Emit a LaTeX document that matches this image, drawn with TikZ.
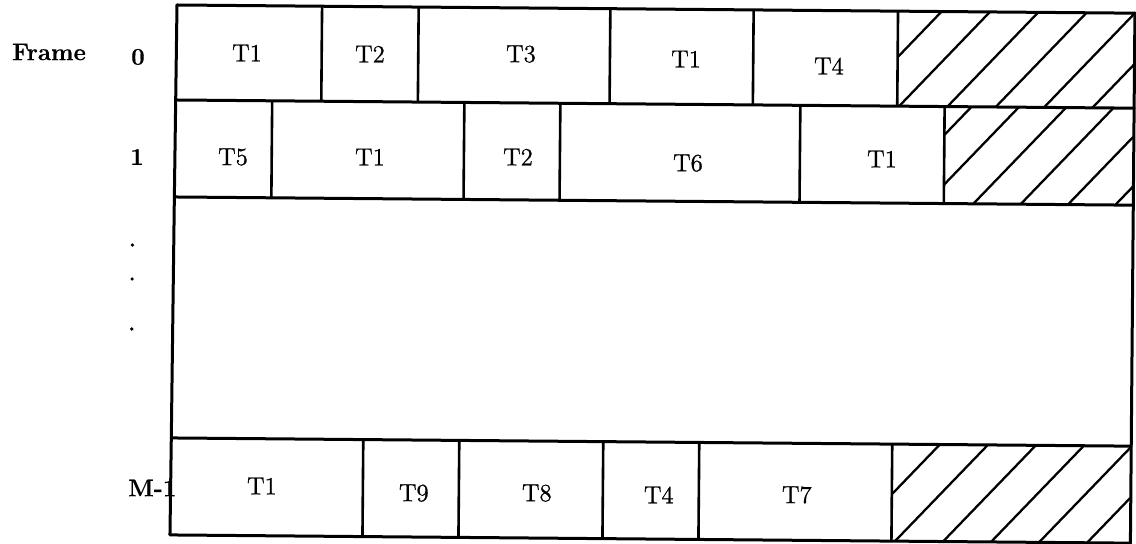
\documentclass[tikz,border=0pt]{standalone}
\usepackage{fontspec}
\newfontface\taskface{Latin Modern Roman}[FakeBold=0.9]
\newfontface\labface{Latin Modern Roman 10 Bold}[FakeBold=0.5]
\begin{document}
\tikzset{
  border/.style={line width=1.5pt, line cap=round, line join=round},
  divider/.style={line width=1.3pt},
  hatchline/.style={line width=1.15pt},
  task/.style={font=\fontsize{12.4}{14}\taskface, inner sep=0pt},
  lab/.style={font=\fontsize{12}{14}\labface, inner sep=0pt},
  dotmark/.style={fill=black},
}
\begin{tikzpicture}[x=0.5pt,y=-0.5pt]
\useasboundingbox (0,0) rectangle (1136,544);
\begin{scope}[rotate around={-0.49:(177,5)}]
  % left labels
  \node[lab] (lframe) at (49.4,53.1) {Frame};
  \node[lab] (l0) at (138.4,57.3) {0};
  \node[lab] (l1) at (138.3,157.3) {1};
  \node[lab, anchor=west] (lm) at (132,488.4) {M-1};
  \fill[dotmark] (134.5,245.4) circle (1.8);
  \fill[dotmark] (134.5,279.4) circle (1.8);
  \fill[dotmark] (134.5,329.4) circle (1.8);

  % hatched regions
  \begin{scope}
    \clip (898,5) rectangle (1135,100);
    \foreach \k in {-2,...,5} \draw[hatchline] ({900+48.3*\k},100) -- ({990+48.3*\k},5);
  \end{scope}
  \begin{scope}
    \clip (945.5,100) rectangle (1135,197);
    \foreach \k in {-3,...,4} \draw[hatchline] ({975+47.3*\k},197) -- ({1067+47.3*\k},100);
  \end{scope}
  \begin{scope}
    \clip (896,438) rectangle (1135,535);
    \foreach \k in {-2,...,5} \draw[hatchline] ({899.6+48*\k},535) -- ({991.6+48*\k},438);
  \end{scope}

  % outer frame and row lines
  \draw[border] (177,5) -- (176,197) -- (175,438) -- (174.5,535);
  \draw[border] (1135,5) -- (1135,535);
  \draw[border] (177,5) -- (1135,5);
  \draw[border] (177,100) -- (1135,100);
  \draw[border] (176,197) -- (1135,197);
  \draw[border] (175,438) -- (1135,438);
  \draw[border] (174.5,535) -- (1135,535);

  % row 0 dividers
  \foreach \u in {322.1,418.7,610.4,753.7,898.1} \draw[divider] (\u,5) -- (\u,100);
  % row 1 dividers
  \foreach \u in {273,465.2,561.2,801.2,945.5} \draw[divider] (\u,100) -- (\u,197);
  % row M-1 dividers
  \foreach \u in {367,463,607,703,896} \draw[divider] (\u,438) -- (\u,535);

  % row 0 tasks
  \node[task] (a1) at (247.4,52.4) {T1};
  \node[task] (a2) at (370.4,52.4) {T2};
  \node[task] (a3) at (521.4,51.1) {T3};
  \node[task] (a4) at (686.5,54.7) {T1};
  \node[task] (a5) at (829.5,60.5) {T4};
  % row 1 tasks
  \node[task] (b1) at (234.3,156.5) {T5};
  \node[task] (b2) at (371.3,155.4) {T1};
  \node[task] (b3) at (519.3,154.1) {T2};
  \node[task] (b4) at (689.3,158.7) {T6};
  \node[task] (b5) at (883.3,153) {T1};
  % row M-1 tasks
  \node[task] (c1) at (266,485.3) {T1};
  \node[task] (c2) at (418,491) {T9};
  \node[task] (c3) at (541,490) {T8};
  \node[task] (c4) at (663,490.8) {T4};
  \node[task] (c5) at (801,489.7) {T7};
\end{scope}
\end{tikzpicture}
\end{document}
